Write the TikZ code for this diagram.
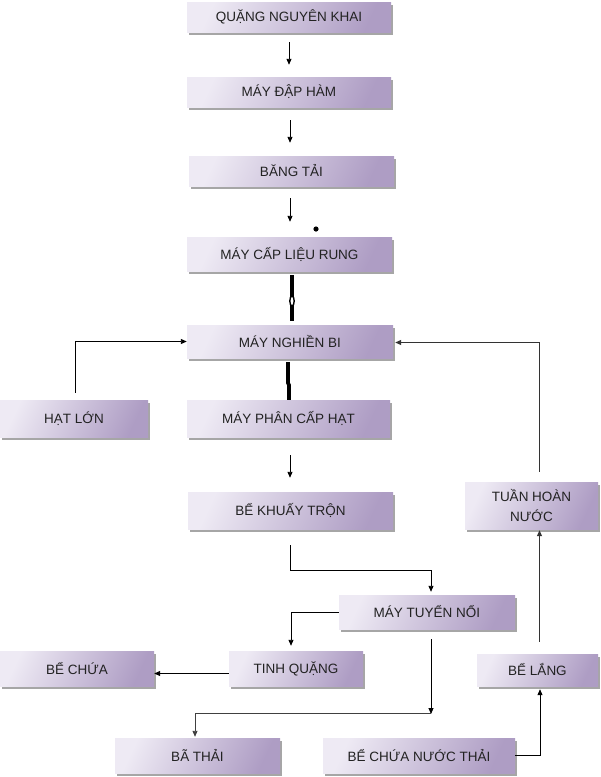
\documentclass[tikz,border=0pt]{standalone}
\usepackage{fontspec}
\setmainfont{Liberation Sans}
\usetikzlibrary{arrows.meta,shadows}
\definecolor{lavL}{HTML}{EEEAF4}
\definecolor{lavR}{HTML}{AE9DC4}
\definecolor{txt}{HTML}{222222}
\tikzset{
  box/.style={shade, left color=lavL, right color=lavR, shading angle=65, draw=none, text=txt,
    font=\fontsize{13.5}{15}\selectfont, align=center, inner sep=0pt,
    drop shadow={shadow xshift=2pt, shadow yshift=-2.5pt, fill=black!35, opacity=1}},
  arr/.style={draw=black, line width=0.9pt, -{Triangle[length=6pt,width=5pt]}},
  thk/.style={draw=black, line width=3.8pt}
}
\begin{document}
\begin{tikzpicture}[x=1pt,y=-1pt]
\useasboundingbox (0,0) rectangle (601,777);
\fill[white] (0,0) rectangle (601,777);

\node[box, minimum width=204pt, minimum height=30pt] (n1) at (289,17) {QUẶNG NGUYÊN KHAI};
\node[box, minimum width=204pt, minimum height=30pt] (n2) at (289,92) {MÁY ĐẬP HÀM};
\node[box, minimum width=205pt, minimum height=30pt] (n3) at (291.5,171) {BĂNG TẢI};
\node[box, minimum width=205pt, minimum height=34pt] (n4) at (289.5,254) {MÁY CẤP LIỆU RUNG};
\node[box, minimum width=206pt, minimum height=33pt] (n5) at (290,341.5) {MÁY NGHIỀN BI};
\node[box, minimum width=148pt, minimum height=37pt] (n6) at (74,418.5) {HẠT LỚN};
\node[box, minimum width=203pt, minimum height=37pt] (n7) at (288.5,418.5) {MÁY PHÂN CẤP HẠT};
\node[box, minimum width=205pt, minimum height=37pt] (n8) at (290.5,510.5) {BỂ KHUẤY TRỘN};
\node[box, minimum width=133pt, minimum height=47pt, font=\fontsize{13.5}{20}\selectfont] (n9) at (531.5,505.5) {TUẦN HOÀN\\NƯỚC};
\node[box, minimum width=176pt, minimum height=34pt] (n10) at (427,612) {MÁY TUYỂN NỔI};
\node[box, minimum width=134pt, minimum height=35pt] (n11) at (296,668.5) {TINH QUẶNG};
\node[box, minimum width=154pt, minimum height=35pt] (n12) at (77,668.5) {BỂ CHỨA};
\node[box, minimum width=121pt, minimum height=32pt] (n13) at (537.5,670) {BỂ LẮNG};
\node[box, minimum width=165pt, minimum height=35pt] (n14) at (197.5,755.5) {BÃ THẢI};
\node[box, minimum width=192pt, minimum height=35pt] (n15) at (419,755.5) {BỂ CHỨA NƯỚC THẢI};

\coordinate (split) at (431,713);

% straight chain
\draw[arr, shorten <=10pt, shorten >=12pt] (n1.south) -- (n2.north);
\draw[arr, shorten <=13pt, shorten >=13pt] ([xshift=1pt]n2.south) -- ([xshift=1pt]n2.south |- n3.north);
\draw[arr, shorten <=12pt, shorten >=15pt] ([xshift=1pt]n2.south |- n3.south) -- ([xshift=1pt]n2.south |- n4.north);
\fill[black] (316,229) circle (2.6pt);

% thick connectors
\draw[thk, shorten <=4pt, shorten >=4pt] ([xshift=2.5pt]n4.south) -- ([xshift=2.5pt]n4.south |- n5.north);
\draw[black, line width=1.4pt, fill=white] ([xshift=2.5pt]n4.south |- 0,301) ellipse (2.2pt and 5pt);
\draw[thk, shorten <=4pt] ([xshift=-2pt]n5.south) -- ([xshift=-2pt]n5.south |- 0,383) -- ([xshift=-1pt]n5.south |- 0,385) -- ([xshift=-1pt]n5.south |- n7.north);

% HAT LON -> NGHIEN BI
\draw[arr] ([xshift=1pt,yshift=7pt]n6.north) |- (n5.west);

\draw[arr, shorten <=18pt, shorten >=14pt] ([xshift=1.5pt]n7.south) -- ([xshift=1.5pt]n7.south |- n8.north);

% khuay tron -> tuyen noi
\draw[arr] ([xshift=-0.5pt,yshift=-16pt]n8.south) -- ([xshift=-0.5pt]n8.south |- 0,570) -| ([xshift=4pt,yshift=3pt]n10.north);

% tuyen noi -> tinh quang
\draw[arr] (n10.west) -| ([xshift=-5pt,yshift=5pt]n11.north);
% tinh quang -> be chua
\draw[arr] ([yshift=-5pt]n11.west) -- ([yshift=-5pt]n12.east);
% tuyen noi -> ba thai
\draw[arr] ([xshift=4pt,yshift=-10pt]n10.south) -- ([yshift=-1pt]split);
\draw[arr, draw=black!75] (split) -| ([xshift=-2.5pt,yshift=1pt]n14.north);

% nuoc thai -> be lang -> tuan hoan -> nghien bi
\draw[arr] (n15.east) -| ([xshift=2.5pt,yshift=-3pt]n13.south);
\draw[arr, draw=black!80] ([xshift=2pt,yshift=12pt]n13.north) -- ([xshift=8pt,yshift=-1pt]n9.south);
\draw[arr, draw=black!80] ([xshift=8pt,yshift=10pt]n9.north) |- ([xshift=2pt,yshift=-1pt]n5.east);
\end{tikzpicture}
\end{document}
